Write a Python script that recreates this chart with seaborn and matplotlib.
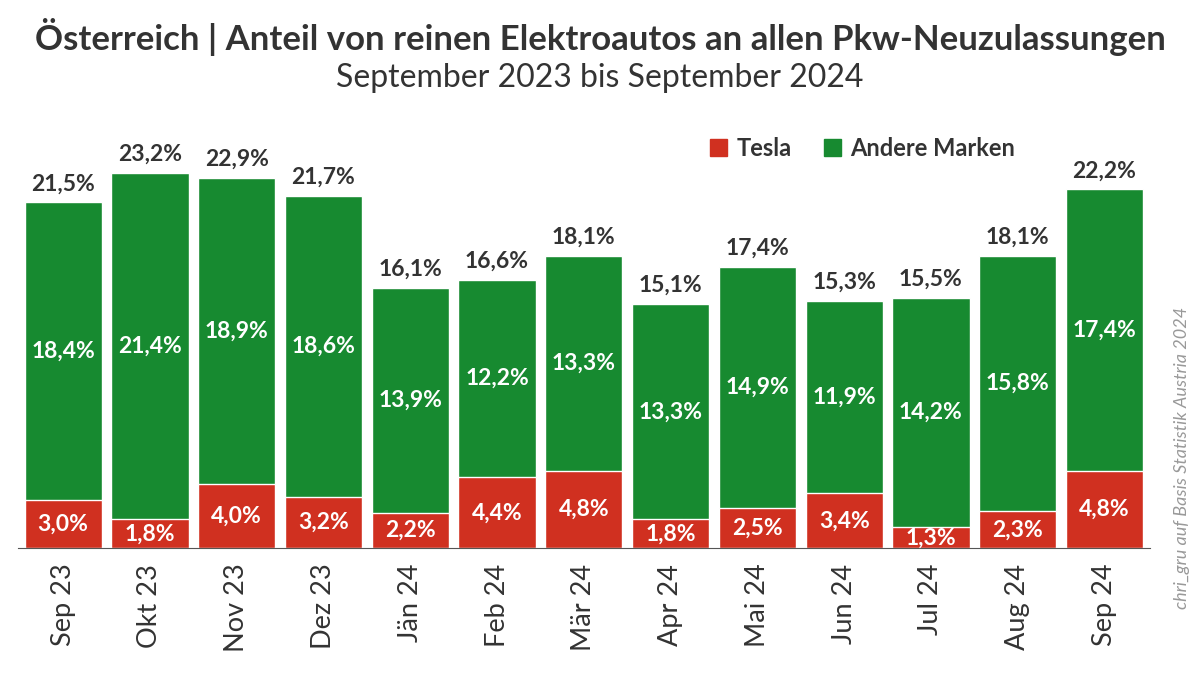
import matplotlib
matplotlib.use("Agg")
import matplotlib.pyplot as plt
import seaborn as sns
import pandas as pd
from matplotlib.patches import Patch

months = ["Sep 23", "Okt 23", "Nov 23", "Dez 23", "Jän 24", "Feb 24", "Mär 24",
          "Apr 24", "Mai 24", "Jun 24", "Jul 24", "Aug 24", "Sep 24"]
tesla = [3.0, 1.8, 4.0, 3.2, 2.2, 4.4, 4.8, 1.8, 2.5, 3.4, 1.3, 2.3, 4.8]
andere = [18.4, 21.4, 18.9, 18.6, 13.9, 12.2, 13.3, 13.3, 14.9, 11.9, 14.2, 15.8, 17.4]
gesamt = [21.5, 23.2, 22.9, 21.7, 16.1, 16.6, 18.1, 15.1, 17.4, 15.3, 15.5, 18.1, 22.2]

RED = "#D03020"
GREEN = "#178A30"

sns.set_style("white")
plt.rcParams['font.family'] = ['Lato', 'DejaVu Sans']

df = pd.DataFrame({"Monat": months, "Tesla": tesla, "Andere": andere})
df["Summe"] = df["Tesla"] + df["Andere"]

fig = plt.figure(figsize=(12, 6.77), dpi=100)
ax = fig.add_axes([0.015, 0.19, 0.943, 0.633])

sns.barplot(data=df, x="Monat", y="Summe", color=GREEN, width=0.89, saturation=1, ax=ax)
sns.barplot(data=df, x="Monat", y="Tesla", color=RED, width=0.89, saturation=1, ax=ax)

def fmt(v):
    return f"{v:.1f}".replace(".", ",") + "%"

for i in range(len(months)):
    ax.text(i, tesla[i] / 2, fmt(tesla[i]), ha="center", va="center", color="white",
            fontsize=16.5, fontweight="bold")
    ax.text(i, tesla[i] + andere[i] / 2, fmt(andere[i]), ha="center", va="center",
            color="white", fontsize=16.5, fontweight="bold")
    ax.text(i, df["Summe"][i] + 0.5, fmt(gesamt[i]), ha="center", va="bottom",
            color="#333333", fontsize=16.5, fontweight="bold")

ax.set_xlim(-0.52, len(months) - 0.48)
ax.set_ylim(0, 26.5)
ax.set_xlabel("")
ax.set_ylabel("")
ax.set_yticks([])
ax.tick_params(axis="x", labelsize=19.5, rotation=90, length=7, color="#555555",
               labelcolor="#333333", pad=4)
for s in ["top", "right", "left"]:
    ax.spines[s].set_visible(False)
ax.spines["bottom"].set_color("#555555")

handles = [Patch(color=RED, label="Tesla"), Patch(color=GREEN, label="Andere Marken")]
leg = ax.legend(handles=handles, loc="upper right", bbox_to_anchor=(0.9, 1.01), ncol=2,
                frameon=False, handlelength=0.7, handleheight=0.7, handletextpad=0.4,
                columnspacing=1.4, prop={"size": 17, "weight": "bold"})
for t in leg.get_texts():
    t.set_color("#333333")

fig.text(0.5, 0.945, "Österreich | Anteil von reinen Elektroautos an allen Pkw-Neuzulassungen",
         ha="center", va="center", fontsize=25, fontweight="bold", color="#333333")
fig.text(0.5, 0.885, "September 2023 bis September 2024", ha="center", va="center",
         fontsize=23, color="#333333")
fig.text(0.985, 0.1, "chri_gru auf Basis Statistik Austria 2024", rotation=90,
         ha="center", va="bottom", fontsize=13, style="italic", color="#999999")

fig.savefig("out.png", dpi=100)
